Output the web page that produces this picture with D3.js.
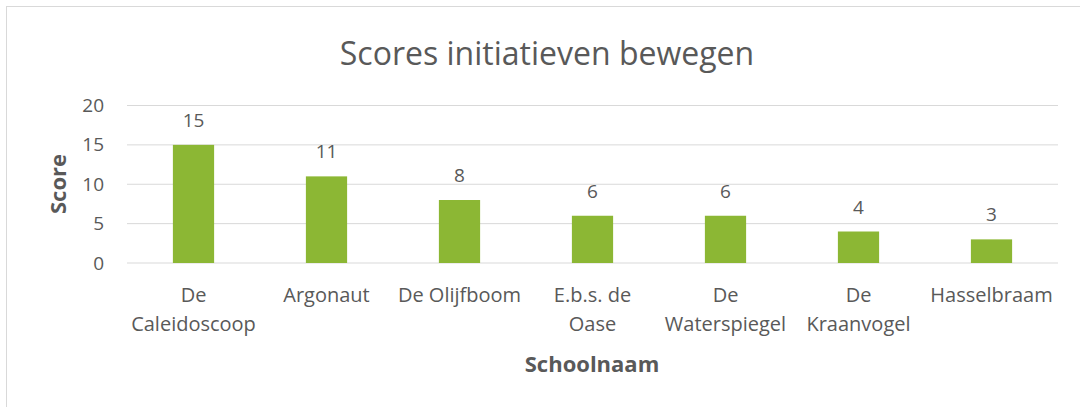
<!DOCTYPE html>
<html>
<head>
<meta charset="utf-8">
<script src="https://cdn.jsdelivr.net/npm/d3@7"></script>
<style>
  body { margin: 0; background: #fff; }
  text { font-family: "Open Sans", "Noto Sans", sans-serif; fill: #595959; }
</style>
</head>
<body>
<div id="wrapper"></div>
<script>
// data
const schools = ['De Caleidoscoop', 'Argonaut', 'De Olijfboom', 'E.b.s. de Oase', 'De Waterspiegel', 'De Kraanvogel', 'Hasselbraam']
const scores = [15, 11, 8, 6, 6, 4, 3]
// how the category labels wrap in the picture
const labelLines = [['De', 'Caleidoscoop'], ['Argonaut'], ['De Olijfboom'], ['E.b.s. de', 'Oase'], ['De', 'Waterspiegel'], ['De', 'Kraanvogel'], ['Hasselbraam']]
const yTicks = [0, 5, 10, 15, 20]

const dataset = schools.map((s, i) => ({ school: s, score: scores[i], lines: labelLines[i] }))

let dimensions = {
  width: 1080,
  height: 407,
  margin: { top: 105.5, right: 22, bottom: 144, left: 127 },
}
dimensions.boundedWidth = dimensions.width - dimensions.margin.left - dimensions.margin.right
dimensions.boundedHeight = dimensions.height - dimensions.margin.top - dimensions.margin.bottom

const wrapper = d3.select('#wrapper')
  .append('svg')
  .attr('width', dimensions.width)
  .attr('height', dimensions.height)

// chart frame
wrapper.append('rect')
  .attr('x', 6.5).attr('y', 6.5)
  .attr('width', 1090).attr('height', 420)
  .attr('fill', 'none')
  .attr('stroke', '#d9d9d9')

wrapper.append('text')
  .attr('x', 547).attr('y', 65)
  .attr('text-anchor', 'middle')
  .style('font-size', '32px')
  .text('Scores initiatieven bewegen')

const bounds = wrapper.append('g')
  .attr('transform', `translate(${dimensions.margin.left}, ${dimensions.margin.top})`)

const xScale = d3.scaleBand()
  .domain(schools)
  .range([0, dimensions.boundedWidth])
  .paddingInner(0.69)
  .paddingOuter(0.345)

const yScale = d3.scaleLinear()
  .domain([0, 20])
  .range([dimensions.boundedHeight, 0])

// gridlines
bounds.append('g')
  .selectAll('line')
  .data(yTicks)
  .enter()
  .append('line')
  .attr('x1', 0)
  .attr('x2', dimensions.boundedWidth)
  .attr('y1', (d) => yScale(d))
  .attr('y2', (d) => yScale(d))
  .attr('stroke', '#d9d9d9')
  .attr('stroke-width', 1)

// y axis
const yAxis = bounds.append('g')
  .call(d3.axisLeft(yScale).tickValues(yTicks).tickSize(0).tickPadding(23))
yAxis.select('.domain').remove()
yAxis.selectAll('text').style('font-size', '19px').attr('fill', '#595959')

// bars
bounds.append('g')
  .selectAll('rect')
  .data(dataset)
  .enter()
  .append('rect')
  .attr('x', (d) => xScale(d.school))
  .attr('y', (d) => yScale(d.score))
  .attr('width', xScale.bandwidth())
  .attr('height', (d) => dimensions.boundedHeight - yScale(d.score))
  .attr('fill', '#8cb734')

// value labels
bounds.append('g')
  .selectAll('text')
  .data(dataset)
  .enter()
  .append('text')
  .attr('x', (d) => xScale(d.school) + xScale.bandwidth() / 2)
  .attr('y', (d) => yScale(d.score) - 18)
  .attr('text-anchor', 'middle')
  .style('font-size', '19px')
  .text((d) => d.score)

// category labels
const catGroup = bounds.append('g')
  .selectAll('text')
  .data(dataset)
  .enter()
  .append('text')
  .attr('text-anchor', 'middle')
  .style('font-size', '20px')
catGroup.selectAll('tspan')
  .data((d) => d.lines.map((l) => ({ l, x: xScale(d.school) + xScale.bandwidth() / 2 })))
  .enter()
  .append('tspan')
  .attr('x', (d) => d.x)
  .attr('y', (d, i) => dimensions.boundedHeight + 39 + i * 29)
  .text((d) => d.l)

// axis titles
wrapper.append('text')
  .attr('transform', 'translate(66, 184) rotate(-90)')
  .attr('text-anchor', 'middle')
  .style('font-size', '22px')
  .style('font-weight', 'bold')
  .text('Score')

wrapper.append('text')
  .attr('x', 592).attr('y', 372)
  .attr('text-anchor', 'middle')
  .style('font-size', '22px')
  .style('font-weight', 'bold')
  .text('Schoolnaam')
</script>
</body>
</html>
